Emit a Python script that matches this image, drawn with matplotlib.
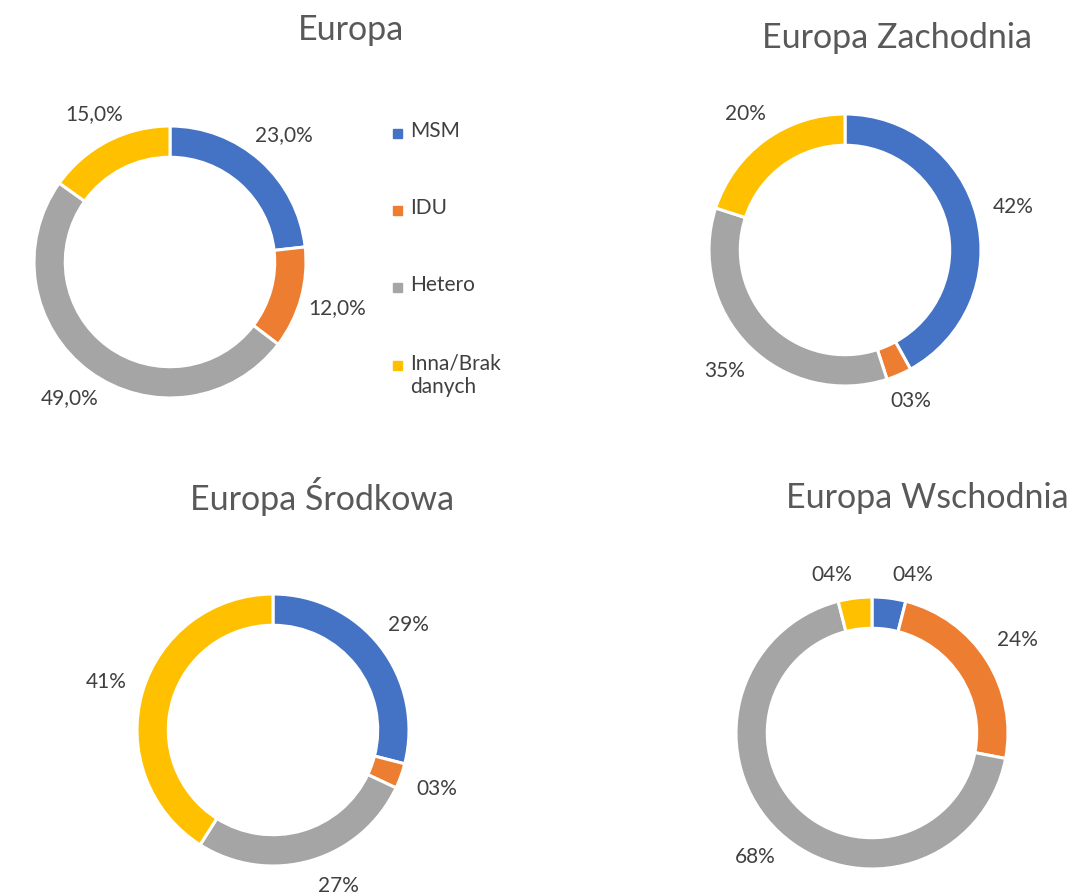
import matplotlib.pyplot as plt
import numpy as np
from matplotlib.patches import Rectangle

# data
categories = ["MSM", "IDU", "Hetero", "Inna/Brak\ndanych"]
colors = ["#4472C4", "#ED7D31", "#A5A5A5", "#FFC000"]

titles = ["Europa", "Europa Zachodnia", "Europa Środkowa", "Europa Wschodnia"]
europa = [23.0, 12.0, 49.0, 15.0]
zachodnia = [42, 3, 35, 20]
srodkowa = [29, 3, 27, 41]
wschodnia = [4, 24, 68, 4]
label_fmt = ["{:.1f}%", "{:02.0f}%", "{:02.0f}%", "{:02.0f}%"]

W, H = 1070, 893
R = 136
# donut centres and title positions in pixels
centres = [(170, 262), (845, 250), (273, 730), (872, 733)]
title_pos = [(351, 30), (897, 38), (322, 497), (927, 498)]

plt.rcParams['font.family'] = ['Lato', 'DejaVu Sans']
fig = plt.figure(figsize=(W / 100, H / 100), dpi=100, facecolor='white')

for vals, (cx, cy), (tx, ty), title, fmt in zip(
        [europa, zachodnia, srodkowa, wschodnia], centres, title_pos, titles, label_fmt):
    ax = fig.add_axes([(cx - R) / W, 1 - (cy + R) / H, 2 * R / W, 2 * R / H])
    wedges, _ = ax.pie(vals, colors=colors, startangle=90, counterclock=False,
                       radius=1, wedgeprops=dict(width=0.23, edgecolor='white', linewidth=2.2))
    for w, v in zip(wedges, vals):
        ang = np.deg2rad((w.theta1 + w.theta2) / 2)
        c, s = np.cos(ang), np.sin(ang)
        d = 1.1 + 0.17 * abs(c) + 0.05 * abs(s)
        # labels near the top/bottom are pushed sideways, like Excel does
        ha = 'center'
        if abs(c) < 0.35:
            ha = 'left' if c > 0 else 'right'
        txt = fmt.format(v).replace('.', ',')
        ax.text(d * c, d * s, txt, ha=ha, va='center',
                fontsize=15, color='#404040')
    ax.set_xlim(-1, 1)
    ax.set_ylim(-1, 1)
    ax.axis('off')
    fig.text(tx / W, 1 - ty / H, title, ha='center', va='center', fontsize=24.5, color='#595959')

# legend
ly = [133, 210, 287, 365]
for lab, col, y in zip(categories, colors, ly):
    fig.patches.append(Rectangle((393 / W, 1 - (y + 5) / H), 9 / W, 9 / H,
                                 transform=fig.transFigure, color=col))
    fig.text(410 / W, 1 - (y - 12) / H, lab, ha='left', va='top', fontsize=15,
             color='#404040', linespacing=1.25)

fig.savefig('out.png', dpi=100)
